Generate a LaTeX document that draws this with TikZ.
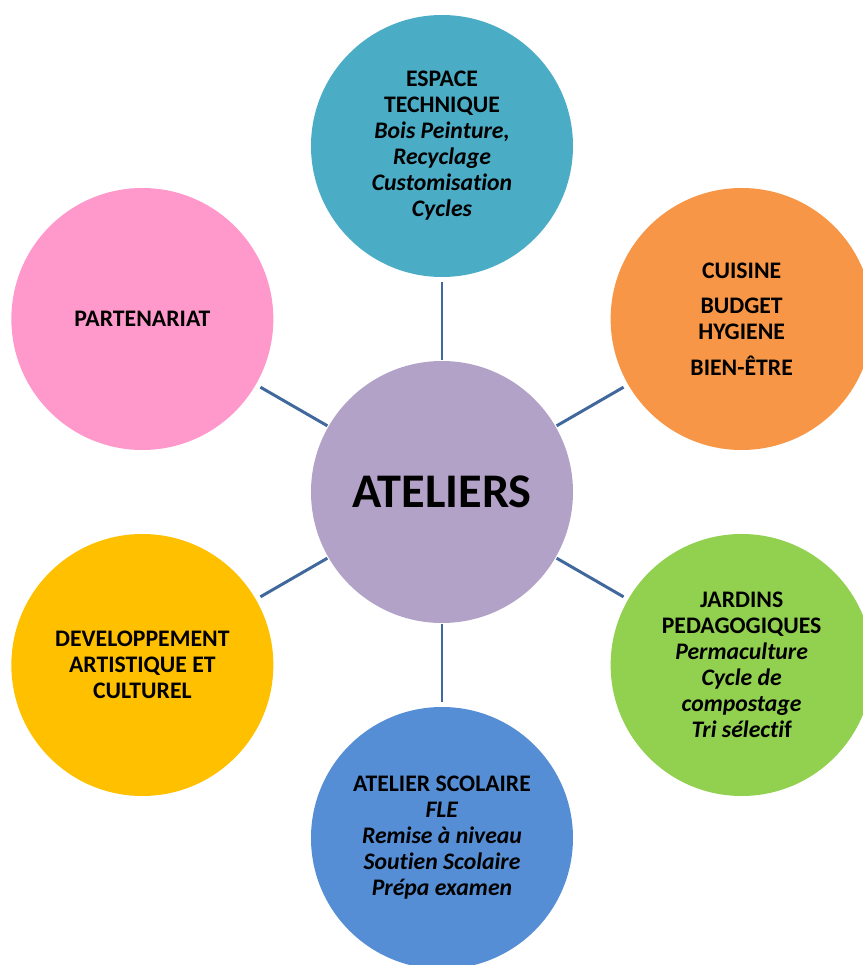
\documentclass[tikz,border=0pt]{standalone}
\usepackage{fontspec}
\setmainfont{Carlito}[RawFeature={-liga;-clig;-calt;-dlig}]
\usepackage{xcolor}
\usepackage{tikz}
\definecolor{aqua}{HTML}{4BACC6}
\definecolor{cuisineorange}{HTML}{F79646}
\definecolor{jardingreen}{HTML}{92D050}
\definecolor{scolaireblue}{HTML}{558ED5}
\definecolor{devgold}{HTML}{FFC000}
\definecolor{partpink}{HTML}{FF99CC}
\definecolor{centerpurple}{HTML}{B2A2C7}
\definecolor{linkblue}{HTML}{41689C}
\tikzset{bubble/.style = {circle, minimum size=5.24cm, inner sep=0pt, align=center,
    font=\bfseries\fontsize{13.5}{14.8}\selectfont},
  link/.style = {draw=linkblue, line width=1.7pt, shorten <=0.02cm, shorten >=0.1cm}}

\begin{document}
\begin{tikzpicture}

\clip (-8.84,-9.46) rectangle (8.42,9.84);

\node at (0,0) [bubble, fill=centerpurple, font=\bfseries\fontsize{27.5}{32}\selectfont] (ateliers) {ATELIERS};

\node at (90:6.92) [bubble, fill=aqua] (espace) {ESPACE\\TECHNIQUE\\\textit{Bois Peinture,}\\\textit{Recyclage}\\\textit{Customisation}\\\textit{Cycles}};
\node at (30:6.92) [bubble, fill=cuisineorange] (cuisine) {CUISINE\\[5.5pt]BUDGET\\HYGIENE\\[5.5pt]BIEN-ÊTRE};
\node at (-30:6.92) [bubble, fill=jardingreen] (jardins) {JARDINS\\PEDAGOGIQUES\\\textit{Permaculture}\\\textit{Cycle de}\\\textit{compostage}\\\textit{Tri sélecti}f};
\node at (-90:6.92) [bubble, fill=scolaireblue] (scolaire) {ATELIER SCOLAIRE\\\textit{FLE}\\\textit{Remise à niveau}\\\textit{Soutien Scolaire}\\\textit{Prépa examen}};
\node at (-150:6.92) [bubble, fill=devgold] (dev) {DEVELOPPEMENT\\ARTISTIQUE ET\\CULTUREL};
\node at (150:6.92) [bubble, fill=partpink] (partenariat) {PARTENARIAT};

\foreach \n in {espace, cuisine, jardins, scolaire, dev, partenariat}
  \draw[link] (ateliers) -- (\n);

\end{tikzpicture}
\end{document}
